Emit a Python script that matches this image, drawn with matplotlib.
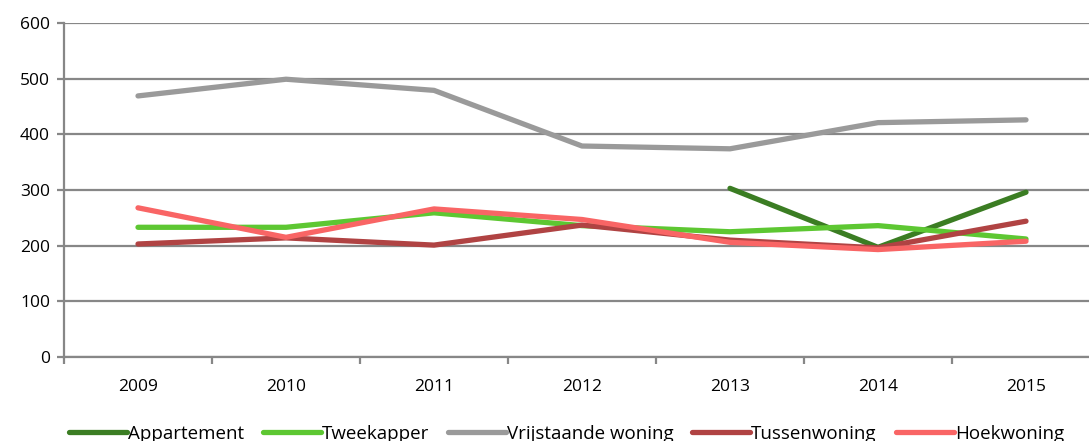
import matplotlib
matplotlib.use("Agg")
import matplotlib.pyplot as plt

years = ["2009", "2010", "2011", "2012", "2013", "2014", "2015"]
appartement = [None, None, None, None, 303, 197, 296]
tweekapper = [233, 233, 259, 236, 225, 236, 212]
vrijstaande = [469, 499, 479, 379, 374, 421, 426]
tussenwoning = [203, 214, 201, 237, 210, 196, 244]
hoekwoning = [268, 215, 266, 247, 206, 193, 208]

labels = ["Appartement", "Tweekapper", "Vrijstaande woning", "Tussenwoning", "Hoekwoning"]
colors = ["#3B7D23", "#5DC732", "#9A9A9A", "#B04343", "#F96565"]
series = [appartement, tweekapper, vrijstaande, tussenwoning, hoekwoning]

plt.rcParams["font.family"] = ["Open Sans", "DejaVu Sans"]

fig = plt.figure(figsize=(10.89, 4.41), dpi=100)
ax = fig.add_axes([64 / 1089, 84 / 441, 1036 / 1089, 334 / 441])

grid_c = "#878787"
x = list(range(len(years)))
for vals, lab, c in zip(series, labels, colors):
    xs = [i for i, v in zip(x, vals) if v is not None]
    ys = [v for v in vals if v is not None]
    ax.plot(xs, ys, color=c, lw=3.8, label=lab, solid_capstyle="round", solid_joinstyle="round")

ax.set_xlim(-0.5, 6.5)
ax.set_ylim(0, 600)
ax.set_yticks(range(0, 601, 100))
ax.yaxis.grid(True, color=grid_c, lw=1.6)
ax.set_axisbelow(True)
ax.set_xticks(x)
ax.set_xticklabels(years)
ax.set_xticks([i - 0.5 for i in range(len(years) + 1)], minor=True)
ax.tick_params(axis="x", which="major", length=0, pad=16, labelsize=12.5)
ax.tick_params(axis="x", which="minor", length=5, width=1.6, color=grid_c, direction="out")
ax.tick_params(axis="y", length=5, width=1.6, color=grid_c, labelsize=12.5, pad=5)
for s in ["top", "right"]:
    ax.spines[s].set_visible(False)
for s in ["left", "bottom"]:
    ax.spines[s].set_color(grid_c)
    ax.spines[s].set_linewidth(1.6)

# legend sits low, partly clipped by the bottom edge as in the source image
fig.legend(loc="center", bbox_to_anchor=(0.52, 7 / 441), ncol=5, frameon=False,
           fontsize=13.5, handlelength=3.1, handletextpad=0.05, columnspacing=1.0)

fig.savefig("out.png", dpi=100)
